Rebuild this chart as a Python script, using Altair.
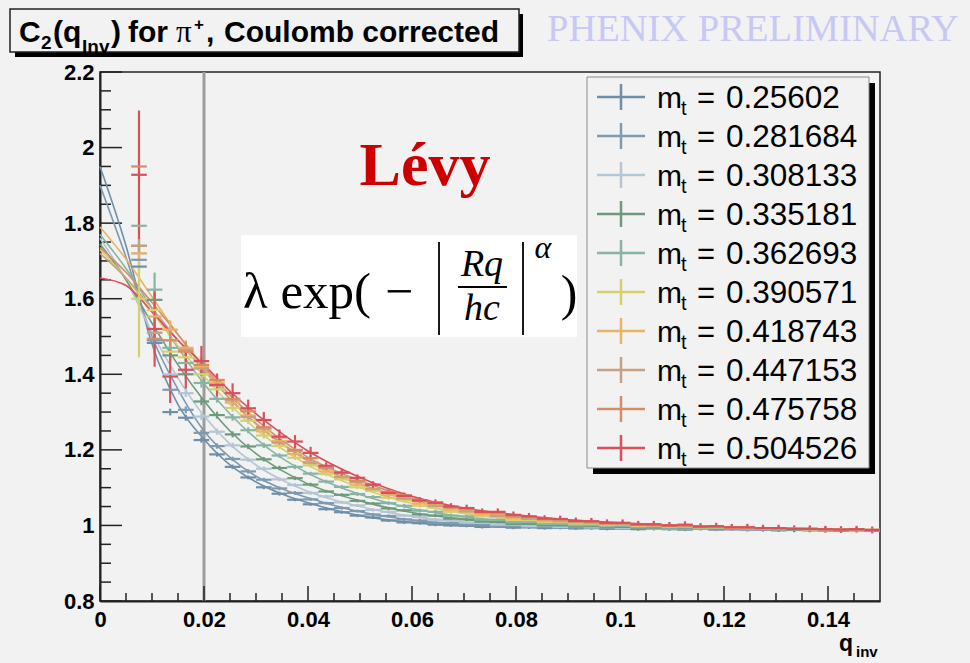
import altair as alt
import pandas as pd

# ---------------- layout ----------------
OX, OY = 100, 72          # plot-area origin on the page
W, H = 780, 529           # plot-area size
BG = "#f2f2f2"

# ---------------- data ----------------
mt_labels = ["0.25602", "0.281684", "0.308133", "0.335181", "0.362693",
             "0.390571", "0.418743", "0.447153", "0.475758", "0.504526"]
colors = ["#6f8ea8", "#7e9ab0", "#b4c5d4", "#6e9a7c", "#88b4a3",
          "#d6d06c", "#e9b265", "#c9a07f", "#d58c69", "#d9505a"]

# fit curves (Levy fits), sampled at q_fit
q_fit = [0, 0.005, 0.01, 0.015, 0.02, 0.025, 0.03, 0.035, 0.04, 0.05,
         0.06, 0.07, 0.08, 0.09, 0.10, 0.12, 0.15]
fit_1 = [1.95, 1.74, 1.48, 1.32, 1.228, 1.16, 1.115, 1.083, 1.06, 1.026, 1.008, 0.999, 0.995, 0.993, 0.992, 0.99, 0.987]
fit_2 = [1.90, 1.71, 1.50, 1.36, 1.25, 1.18, 1.13, 1.097, 1.073, 1.036, 1.014, 1.003, 0.997, 0.995, 0.993, 0.99, 0.987]
fit_3 = [1.76, 1.65, 1.51, 1.39, 1.29, 1.215, 1.16, 1.12, 1.09, 1.05, 1.024, 1.009, 1.0, 0.996, 0.994, 0.99, 0.987]
fit_4 = [1.745, 1.65, 1.535, 1.425, 1.33, 1.25, 1.19, 1.145, 1.11, 1.065, 1.034, 1.016, 1.005, 0.999, 0.996, 0.991, 0.987]
fit_5 = [1.77, 1.68, 1.575, 1.47, 1.375, 1.295, 1.23, 1.178, 1.138, 1.082, 1.045, 1.023, 1.01, 1.002, 0.998, 0.992, 0.988]
fit_6 = [1.73, 1.655, 1.565, 1.475, 1.395, 1.32, 1.255, 1.203, 1.16, 1.1, 1.058, 1.032, 1.016, 1.007, 1.001, 0.994, 0.988]
fit_7 = [1.79, 1.705, 1.605, 1.505, 1.415, 1.335, 1.268, 1.215, 1.17, 1.108, 1.065, 1.038, 1.02, 1.009, 1.002, 0.994, 0.988]
fit_8 = [1.72, 1.655, 1.575, 1.49, 1.41, 1.335, 1.27, 1.217, 1.173, 1.11, 1.068, 1.04, 1.022, 1.011, 1.004, 0.995, 0.988]
fit_9 = [1.735, 1.67, 1.59, 1.505, 1.42, 1.345, 1.28, 1.225, 1.18, 1.118, 1.073, 1.044, 1.025, 1.013, 1.005, 0.995, 0.988]
fit_10 = [1.655, 1.635, 1.565, 1.49, 1.425, 1.355, 1.295, 1.243, 1.197, 1.127, 1.077, 1.046, 1.028, 1.015, 1.007, 0.996, 0.988]

# measured C2 points (bin centres q_bins, bin width 0.003)
q_bins = [0.0075, 0.0105, 0.0135, 0.0165, 0.0195, 0.0225, 0.0255, 0.0285, 0.0315, 0.0345,
          0.0375, 0.0405, 0.0435, 0.0465, 0.0495, 0.0525, 0.0555, 0.0585, 0.0615, 0.0645,
          0.0675, 0.0705, 0.0735, 0.0765, 0.0795, 0.0825, 0.0855, 0.0885, 0.0915, 0.0945,
          0.0975, 0.1005, 0.1035, 0.1065, 0.1095, 0.1125, 0.1155, 0.1185, 0.1215, 0.1245,
          0.1275, 0.1305, 0.1335, 0.1365, 0.1395, 0.1425, 0.1455, 0.1485]
BIN_HALF = 0.0015
c2_1 = [1.685, 1.483, 1.300, 1.285, 1.226, 1.188, 1.155, 1.127, 1.101, 1.084, 1.068, 1.056,
        1.043, 1.035, 1.026, 1.021, 1.013, 1.008, 1.006, 1.002, 1.000, 0.999, 0.996, 0.997,
        0.994, 0.995, 0.993, 0.994, 0.992, 0.993, 0.991, 0.992, 0.990, 0.991, 0.990, 0.989,
        0.991, 0.989, 0.990, 0.988, 0.989, 0.987, 0.988, 0.988, 0.986, 0.987, 0.988, 0.986]
c2_2 = [1.703, 1.490, 1.359, 1.306, 1.245, 1.210, 1.176, 1.143, 1.121, 1.098, 1.086, 1.069,
        1.059, 1.046, 1.038, 1.029, 1.025, 1.016, 1.013, 1.007, 1.006, 1.002, 1.001, 0.998,
        0.998, 0.996, 0.996, 0.994, 0.995, 0.993, 0.994, 0.992, 0.993, 0.991, 0.991, 0.990,
        0.991, 0.989, 0.990, 0.989, 0.989, 0.988, 0.989, 0.987, 0.988, 0.987, 0.987, 0.986]
c2_3 = [1.720, 1.510, 1.400, 1.350, 1.288, 1.248, 1.212, 1.174, 1.150, 1.122, 1.107, 1.086,
        1.077, 1.061, 1.053, 1.041, 1.036, 1.026, 1.022, 1.015, 1.013, 1.008, 1.007, 1.002,
        1.002, 0.998, 0.999, 0.996, 0.997, 0.995, 0.995, 0.993, 0.994, 0.992, 0.992, 0.991,
        0.991, 0.990, 0.990, 0.989, 0.990, 0.988, 0.989, 0.988, 0.987, 0.988, 0.987, 0.987]
c2_4 = [1.740, 1.597, 1.450, 1.400, 1.328, 1.292, 1.241, 1.209, 1.175, 1.152, 1.125, 1.108,
        1.090, 1.081, 1.065, 1.058, 1.045, 1.040, 1.029, 1.026, 1.018, 1.016, 1.010, 1.009,
        1.004, 1.004, 1.000, 1.000, 0.997, 0.998, 0.995, 0.996, 0.994, 0.994, 0.993, 0.992,
        0.992, 0.991, 0.991, 0.990, 0.990, 0.989, 0.989, 0.988, 0.988, 0.987, 0.988, 0.987]
c2_5 = [1.793, 1.624, 1.470, 1.430, 1.377, 1.335, 1.286, 1.252, 1.212, 1.185, 1.155, 1.137,
        1.116, 1.102, 1.083, 1.075, 1.059, 1.052, 1.039, 1.036, 1.026, 1.024, 1.015, 1.015,
        1.008, 1.009, 1.004, 1.004, 1.000, 1.001, 0.998, 0.999, 0.996, 0.997, 0.994, 0.995,
        0.993, 0.993, 0.992, 0.991, 0.991, 0.990, 0.990, 0.989, 0.989, 0.988, 0.988, 0.988]
c2_6 = [1.600, 1.570, 1.460, 1.445, 1.400, 1.360, 1.311, 1.277, 1.238, 1.210, 1.179, 1.159,
        1.136, 1.122, 1.101, 1.091, 1.073, 1.066, 1.052, 1.047, 1.036, 1.033, 1.024, 1.022,
        1.015, 1.014, 1.009, 1.009, 1.005, 1.005, 1.001, 1.002, 0.999, 1.000, 0.997, 0.997,
        0.995, 0.995, 0.994, 0.993, 0.992, 0.992, 0.991, 0.990, 0.990, 0.989, 0.989, 0.988]
c2_7 = [1.720, 1.553, 1.518, 1.470, 1.420, 1.378, 1.325, 1.291, 1.249, 1.223, 1.189, 1.168,
        1.143, 1.129, 1.108, 1.097, 1.080, 1.072, 1.058, 1.053, 1.042, 1.039, 1.029, 1.027,
        1.019, 1.018, 1.012, 1.012, 1.007, 1.007, 1.003, 1.003, 1.000, 1.000, 0.998, 0.998,
        0.996, 0.996, 0.994, 0.994, 0.992, 0.992, 0.991, 0.990, 0.990, 0.989, 0.989, 0.988]
c2_8 = [1.740, 1.510, 1.490, 1.465, 1.415, 1.370, 1.331, 1.287, 1.256, 1.219, 1.197, 1.166,
        1.151, 1.128, 1.115, 1.096, 1.087, 1.071, 1.065, 1.052, 1.048, 1.037, 1.035, 1.025,
        1.024, 1.017, 1.017, 1.011, 1.011, 1.007, 1.006, 1.003, 1.003, 1.000, 1.000, 0.998,
        0.997, 0.996, 0.995, 0.994, 0.993, 0.992, 0.991, 0.991, 0.990, 0.989, 0.989, 0.988]
c2_9 = [1.950, 1.494, 1.490, 1.460, 1.425, 1.385, 1.335, 1.302, 1.260, 1.233, 1.200, 1.178,
        1.153, 1.139, 1.118, 1.107, 1.089, 1.080, 1.066, 1.061, 1.048, 1.045, 1.035, 1.033,
        1.024, 1.023, 1.016, 1.016, 1.010, 1.010, 1.005, 1.006, 1.002, 1.002, 0.999, 0.999,
        0.997, 0.996, 0.995, 0.994, 0.993, 0.992, 0.991, 0.991, 0.990, 0.989, 0.989, 0.988]
c2_10 = [1.928, 1.520, 1.394, 1.412, 1.435, 1.372, 1.350, 1.310, 1.279, 1.235, 1.222, 1.192,
         1.158, 1.140, 1.126, 1.108, 1.086, 1.078, 1.066, 1.060, 1.050, 1.046, 1.036, 1.036,
         1.028, 1.024, 1.018, 1.017, 1.012, 1.011, 1.007, 1.007, 1.003, 1.003, 1.000, 1.002,
         0.997, 0.998, 0.995, 0.995, 0.993, 0.993, 0.991, 0.991, 0.990, 0.989, 0.990, 0.988]

# statistical errors: first 12 bins listed, then a constant tail value
err_1 = [0.012, 0.010, 0.009, 0.008, 0.007, 0.006, 0.006, 0.005, 0.005, 0.005, 0.004, 0.004]
err_2 = [0.012, 0.011, 0.010, 0.009, 0.008, 0.007, 0.006, 0.006, 0.005, 0.005, 0.005, 0.004]
err_3 = [0.020, 0.015, 0.012, 0.010, 0.009, 0.008, 0.007, 0.006, 0.006, 0.005, 0.005, 0.005]
err_4 = [0.020, 0.018, 0.014, 0.012, 0.010, 0.009, 0.008, 0.007, 0.006, 0.006, 0.005, 0.005]
err_5 = [0.020, 0.045, 0.020, 0.015, 0.012, 0.010, 0.009, 0.008, 0.007, 0.006, 0.006, 0.005]
err_6 = [0.155, 0.030, 0.022, 0.016, 0.013, 0.011, 0.010, 0.009, 0.008, 0.007, 0.006, 0.006]
err_7 = [0.020, 0.030, 0.025, 0.020, 0.015, 0.012, 0.011, 0.010, 0.009, 0.008, 0.007, 0.006]
err_8 = [0.020, 0.035, 0.028, 0.022, 0.017, 0.014, 0.012, 0.011, 0.010, 0.009, 0.008, 0.007]
err_9 = [0.020, 0.040, 0.030, 0.025, 0.020, 0.016, 0.014, 0.012, 0.011, 0.010, 0.009, 0.008]
err_10 = [0.170, 0.100, 0.070, 0.050, 0.040, 0.030, 0.026, 0.023, 0.021, 0.019, 0.017, 0.016]
err_tail = [0.004, 0.004, 0.004, 0.004, 0.005, 0.005, 0.005, 0.006, 0.006, 0.009]

x_major = [0, 0.02, 0.04, 0.06, 0.08, 0.1, 0.12, 0.14]
x_minor = [0.005, 0.01, 0.015, 0.025, 0.03, 0.035, 0.045, 0.05, 0.055, 0.065, 0.07, 0.075,
           0.085, 0.09, 0.095, 0.105, 0.11, 0.115, 0.125, 0.13, 0.135, 0.145]
y_major = [0.8, 1.0, 1.2, 1.4, 1.6, 1.8, 2.0, 2.2]
y_minor = [0.85, 0.9, 0.95, 1.05, 1.1, 1.15, 1.25, 1.3, 1.35, 1.45, 1.5, 1.55, 1.65, 1.7,
           1.75, 1.85, 1.9, 1.95, 2.05, 2.1, 2.15]

fits = [fit_1, fit_2, fit_3, fit_4, fit_5, fit_6, fit_7, fit_8, fit_9, fit_10]
c2s = [c2_1, c2_2, c2_3, c2_4, c2_5, c2_6, c2_7, c2_8, c2_9, c2_10]
errs = [err_1, err_2, err_3, err_4, err_5, err_6, err_7, err_8, err_9, err_10]

# ---------------- tables ----------------
fit_rows, pt_rows = [], []
for i, lab in enumerate(mt_labels):
    for q, c in zip(q_fit, fits[i]):
        fit_rows.append({"series": lab, "order": i, "q": q, "c": c})
    for k, (q, c) in enumerate(zip(q_bins, c2s[i])):
        e = errs[i][k] if k < len(errs[i]) else err_tail[i]
        pt_rows.append({"series": lab, "order": i, "q": q, "c": c,
                        "qlo": q - BIN_HALF, "qhi": q + BIN_HALF,
                        "clo": c - e, "chi": c + e})
fit_df = pd.DataFrame(fit_rows)
pt_df = pd.DataFrame(pt_rows)

leg_df = pd.DataFrame({"series": mt_labels, "label": mt_labels, "row": list(range(10))})
leg_df["yc"] = 97 + 39 * leg_df["row"] - OY
leg_df["yt"] = leg_df["yc"] - 13
leg_df["yb"] = leg_df["yc"] + 13
leg_df["ybase"] = leg_df["yc"] + 11
leg_df["ysub"] = leg_df["yc"] + 18

one = pd.DataFrame({"k": [0]})

# ---------------- scales / axes ----------------
xscale = alt.Scale(domain=[0, 0.15], nice=False, zero=False)
yscale = alt.Scale(domain=[0.8, 2.2], nice=False, zero=False)
cscale = alt.Scale(domain=mt_labels, range=colors)
AXF = "Liberation Sans"
xaxis = alt.Axis(values=x_major, format="~g", title=None, grid=False, tickSize=0,
                 labelFont=AXF, labelFontWeight="bold", labelFontSize=22, labelColor="black",
                 labelPadding=8, labelFlush=False, labelOverlap=False,
                 domainColor="#222", domainWidth=2)
yaxis = alt.Axis(values=y_major, format="~g", title=None, grid=False, tickSize=0,
                 labelFont=AXF, labelFontWeight="bold", labelFontSize=22, labelColor="black",
                 labelPadding=6, labelOverlap=False, labelBaseline="middle",
                 domainColor="#222", domainWidth=2)


def X(f):
    return alt.X(f"{f}:Q", scale=xscale, axis=xaxis)


def Y(f):
    return alt.Y(f"{f}:Q", scale=yscale, axis=yaxis)


COL = alt.Color("series:N", scale=cscale, legend=None)


def box(x1, y1, x2, y2, fill, stroke=None, sw=0):
    kw = dict(fill=fill, strokeWidth=sw)
    if stroke:
        kw["stroke"] = stroke
    return alt.Chart(one).mark_rect(**kw).encode(
        x=alt.value(x1 - OX), x2=alt.value(x2 - OX),
        y=alt.value(y1 - OY), y2=alt.value(y2 - OY))


def seg(x1, y1, x2, y2, color="black", w=1.8):
    return alt.Chart(one).mark_rule(color=color, strokeWidth=w).encode(
        x=alt.value(x1 - OX), x2=alt.value(x2 - OX),
        y=alt.value(y1 - OY), y2=alt.value(y2 - OY))


def txt(s, x, y, size, font=AXF, weight="bold", color="black", align="left", style="normal"):
    return alt.Chart(one).mark_text(text=s, align=align, baseline="alphabetic", font=font,
                                    fontSize=size, fontWeight=weight, fontStyle=style,
                                    color=color).encode(x=alt.value(x - OX), y=alt.value(y - OY))


layers = []

# legend box with shadow
layers.append(box(593, 83, 875, 474, "black"))
layers.append(box(587, 77, 869, 468, BG, "#8a8a8a", 1))

# formula box
layers.append(box(241, 235, 577, 337, "white"))

# vertical marker at q = 0.02
layers.append(alt.Chart(pd.DataFrame({"q": [0.02]})).mark_rule(color="#9c9c9c", strokeWidth=3)
              .encode(x=X("q"), y=alt.value(0), y2=alt.value(H)))

# inner ticks
tick_col = "#222"
layers.append(alt.Chart(pd.DataFrame({"q": x_major})).mark_rule(color=tick_col, strokeWidth=1.5)
              .encode(x=X("q"), y=alt.value(H), y2=alt.value(H - 15)))
layers.append(alt.Chart(pd.DataFrame({"q": x_minor})).mark_rule(color=tick_col, strokeWidth=1.5)
              .encode(x=X("q"), y=alt.value(H), y2=alt.value(H - 8)))
layers.append(alt.Chart(pd.DataFrame({"c": y_major})).mark_rule(color=tick_col, strokeWidth=1.5)
              .encode(y=Y("c"), x=alt.value(0), x2=alt.value(22)))
layers.append(alt.Chart(pd.DataFrame({"c": y_minor})).mark_rule(color=tick_col, strokeWidth=1.5)
              .encode(y=Y("c"), x=alt.value(0), x2=alt.value(11)))

# fit curves
layers.append(alt.Chart(fit_df).mark_line(strokeWidth=1.6, interpolate="monotone")
              .encode(x=X("q"), y=Y("c"), color=COL, detail="series:N", order="q:Q"))

# data crosses
layers.append(alt.Chart(pt_df).mark_rule(strokeWidth=2.2)
              .encode(x=X("q"), y=Y("clo"), y2="chi:Q", color=COL))
layers.append(alt.Chart(pt_df).mark_rule(strokeWidth=2.2)
              .encode(x=X("qlo"), x2="qhi:Q", y=Y("c"), color=COL))

# legend content
LY = lambda f: alt.Y(f"{f}:Q", scale=None, axis=None)
layers.append(alt.Chart(leg_df).mark_rule(strokeWidth=2.5)
              .encode(x=alt.value(597 - OX), x2=alt.value(645 - OX), y=LY("yc"), color=COL))
layers.append(alt.Chart(leg_df).mark_rule(strokeWidth=2.5)
              .encode(x=alt.value(621 - OX), y=LY("yt"), y2="yb:Q", color=COL))
layers.append(alt.Chart(leg_df).mark_text(text="m", align="left", baseline="alphabetic",
                                          font=AXF, fontSize=30, color="black")
              .encode(x=alt.value(657 - OX), y=LY("ybase")))
layers.append(alt.Chart(leg_df).mark_text(text="t", align="left", baseline="alphabetic",
                                          font=AXF, fontSize=20, color="black")
              .encode(x=alt.value(681 - OX), y=LY("ysub")))
layers.append(alt.Chart(leg_df).mark_text(text="=", align="left", baseline="alphabetic",
                                          font=AXF, fontSize=31, color="black")
              .encode(x=alt.value(697 - OX), y=LY("ybase")))
layers.append(alt.Chart(leg_df).mark_text(align="left", baseline="alphabetic",
                                          font=AXF, fontSize=31.5, color="black")
              .encode(x=alt.value(726 - OX), y=LY("ybase"), text="label:N"))

# Levy + formula
SER = "Liberation Serif"
layers.append(txt("Lévy", 425, 185, 62, font=SER, weight="bold", color="#cc0000", align="center"))
layers.append(txt("λ exp(", 243, 308, 51, font=SER, weight="normal"))
layers.append(txt("−", 399, 308, 50, font=SER, weight="normal", align="center"))
layers.append(seg(439, 242, 439, 335))
layers.append(seg(523, 242, 523, 335))
layers.append(txt("Rq", 482, 276, 38, font=SER, weight="normal", style="italic", align="center"))
layers.append(seg(458, 287, 507, 287))
layers.append(txt("hc", 482, 320, 38, font=SER, weight="normal", style="italic", align="center"))
layers.append(txt("α", 543, 258, 32, font=SER, weight="normal", style="italic", align="center"))
layers.append(txt(")", 569, 310, 50, font=SER, weight="normal", align="center"))

# axis title q_inv
layers.append(txt("q", 839, 651, 23))
layers.append(txt("inv", 856, 657, 15))

# title box
layers.append(box(15, 14, 523, 57, "black"))
layers.append(box(10, 9, 519, 52, BG, "#222", 1.5))
layers.append(txt("C", 19, 42, 30))
layers.append(txt("2", 41, 49, 19))
layers.append(txt("(q", 53, 42, 30))
layers.append(txt("Inv", 82, 53, 19))
layers.append(txt(")", 111, 42, 30))
layers.append(txt("for", 128, 42, 30))
layers.append(txt("π", 176, 42, 31, font=SER, weight="normal"))
layers.append(txt("+", 194, 30, 17))
layers.append(txt(",", 206, 42, 30))
layers.append(txt("Coulomb corrected", 224, 42, 30))

# PHENIX PRELIMINARY
layers.append(txt("PHENIX PRELIMINARY", 547, 41, 38.5, font=SER, weight="normal", color="#c8c8f4"))

chart = alt.layer(*layers).properties(
    width=W, height=H, background=BG,
    padding={"left": OX, "top": OY, "right": 970 - OX - W, "bottom": 663 - OY - H},
    autosize=alt.AutoSizeParams(type="none"),
).configure_view(stroke="#222", strokeWidth=1.5)

chart.save("out.html", embed_options={"renderer": "svg", "actions": False})
